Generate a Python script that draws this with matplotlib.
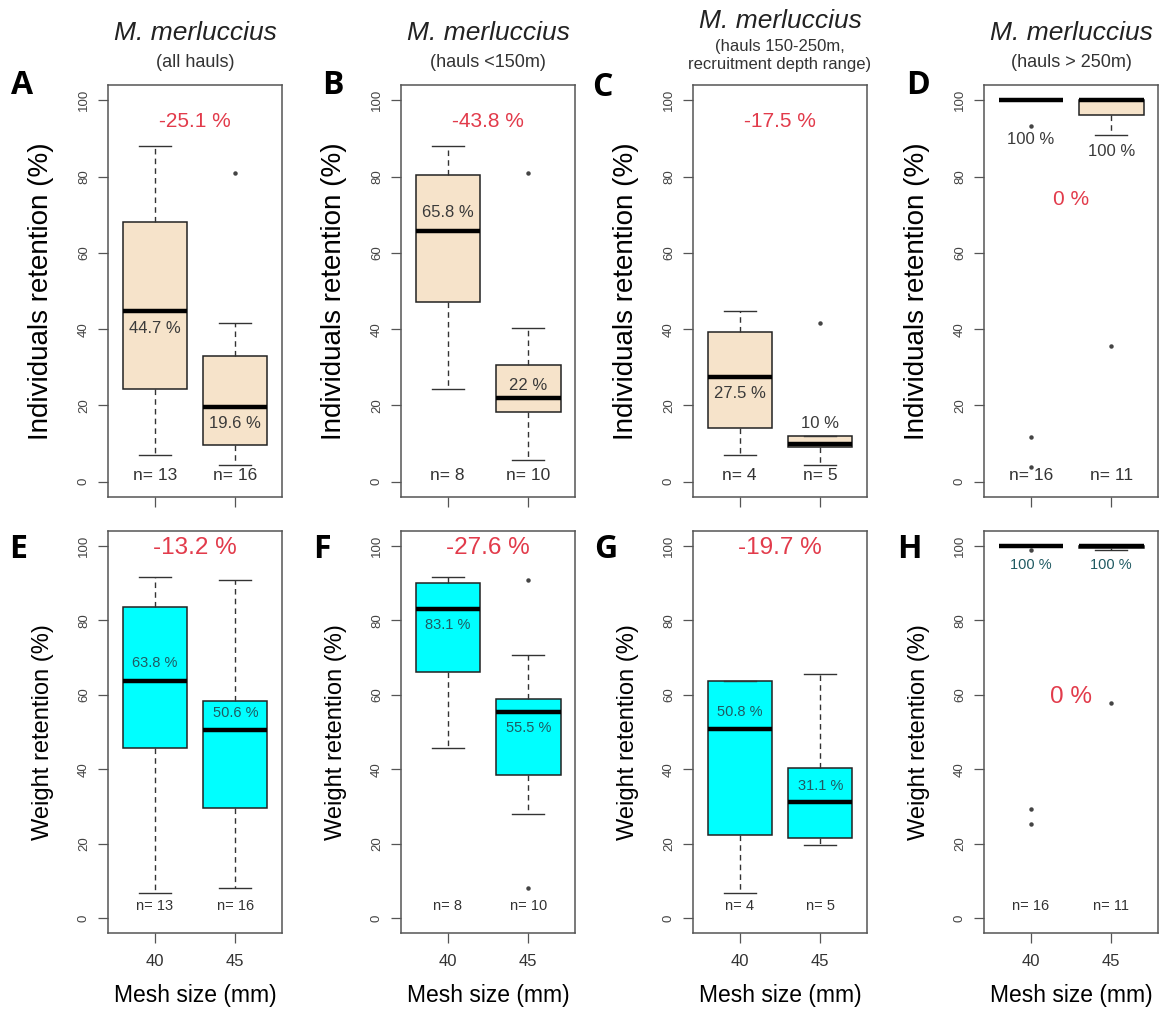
import matplotlib.pyplot as plt

plt.rcParams["font.family"] = ["Liberation Sans", "DejaVu Sans"]

# ---------------------------data---------------------------
mesh = ["40", "45"]
letters = ["A", "B", "C", "D", "E", "F", "G", "H"]
subtitles = ["(all hauls)", "(hauls <150m)",
             "(hauls 150-250m,\nrecruitment depth range)", "(hauls > 250m)"]
n_hauls = [[13, 16], [8, 10], [4, 5], [16, 11]]
change_ind = [-25.1, -43.8, -17.5, 0]
change_wt = [-13.2, -27.6, -19.7, 0]

# individuals retention (%), one pair (40 mm, 45 mm) per depth group
ind_whislo = [[7.0, 4.4], [24.2, 5.8], [7.0, 4.4], [100, 90.8]]
ind_q1 = [[24.2, 9.7], [47.2, 18.2], [14.1, 9.0], [100, 96.1]]
ind_med = [[44.7, 19.6], [65.8, 22], [27.5, 10], [100, 100]]
ind_q3 = [[68.2, 33.0], [80.3, 30.7], [39.3, 12.1], [100, 100]]
ind_whishi = [[88.0, 41.7], [88.0, 40.2], [44.7, 12.1], [100, 100]]
ind_fliers = [[[], [81.0]], [[], [81.0]], [[], [41.7]], [[93.2, 11.7, 3.9], [35.5]]]

# weight retention (%)
wt_whislo = [[6.7, 8.0], [45.7, 28.1], [6.7, 19.7], [100, 99.0]]
wt_q1 = [[45.7, 29.6], [66.1, 38.5], [22.3, 21.5], [100, 99.3]]
wt_med = [[63.8, 50.6], [83.1, 55.5], [50.8, 31.1], [100, 100]]
wt_q3 = [[83.6, 58.2], [89.9, 58.9], [63.7, 40.3], [100, 100]]
wt_whishi = [[91.6, 90.8], [91.6, 70.8], [63.7, 65.7], [100, 100]]
wt_fliers = [[[], []], [[], [90.8, 8.0]], [[], []], [[98.8, 29.3, 25.2], [57.9]]]

# ---------------------------layout---------------------------
W, H = 1163, 1015
col_left = [108, 401, 693, 984]
col_width = 174
row_top = [85, 531]
row_bottom = [497, 933]
letter_xy = [[(22, 85), (333, 86), (602, 88), (918, 86)],
             [(18, 549), (322, 549), (606, 549), (909, 549)]]
title_y = [33, 33, 21, 33]
sub_y = [62, 62, 46, 62]      # first subtitle line
sub_step = 19                 # pixels between subtitle lines
sub_fs = [13, 13, 12, 13]
med_offset = [[(-4.4, -4.4), (4.7, 3.2), (-4.4, 5.2), (-10.3, -13.4)],
              [(4.7, 4.4), (-4.4, -4.3), (4.5, 4.5), (-5.1, -5.1)]]
change_y = [[94.5, 94.5, 94.5, 74], [99.5, 99.5, 99.5, 59.3]]
n_y = [1.6, 3.2]

RED = "#e23b4b"
rows = [
    dict(ylabel="Individuals retention (%)", fill="#f6e3ca", medcol="#3a3a3a",
         whislo=ind_whislo, q1=ind_q1, med=ind_med, q3=ind_q3, whishi=ind_whishi,
         fliers=ind_fliers, change=change_ind, red_fs=15, lab_fs=12, n_fs=12.5,
         ylab_fs=20),
    dict(ylabel="Weight retention (%)", fill="#00ffff", medcol="#1f5a62",
         whislo=wt_whislo, q1=wt_q1, med=wt_med, q3=wt_q3, whishi=wt_whishi,
         fliers=wt_fliers, change=change_wt, red_fs=17.5, lab_fs=10.5, n_fs=10.5,
         ylab_fs=17),
]

fig = plt.figure(figsize=(W / 100, H / 100), dpi=100)

for r, row in enumerate(rows):
    for c in range(4):
        left = col_left[c] / W
        bottom = 1 - row_bottom[r] / H
        height = (row_bottom[r] - row_top[r]) / H
        ax = fig.add_axes([left, bottom, col_width / W, height])

        stats = []
        for k in range(2):
            stats.append(dict(whislo=row["whislo"][c][k], q1=row["q1"][c][k],
                              med=row["med"][c][k], q3=row["q3"][c][k],
                              whishi=row["whishi"][c][k], fliers=row["fliers"][c][k]))
        ax.bxp(stats, positions=[1, 2], widths=0.8, capwidths=0.4, patch_artist=True,
               boxprops=dict(facecolor=row["fill"], edgecolor="#222222", linewidth=1.1),
               medianprops=dict(color="black", linewidth=3.2, solid_capstyle="butt"),
               whiskerprops=dict(color="#333333", linewidth=1, linestyle=(0, (4, 3))),
               capprops=dict(color="#333333", linewidth=1),
               flierprops=dict(marker="o", markersize=2.2, markerfacecolor="#444444",
                               markeredgecolor="#444444"))

        ax.set_xlim(0.42, 2.58)
        ax.set_ylim(-4, 104)
        ax.set_yticks([0, 20, 40, 60, 80, 100])
        ax.set_yticklabels(["0", "20", "40", "60", "80", "100"], rotation=90,
                           va="center", fontsize=9.5, color="#444444")
        ax.set_xticks([1, 2])
        if r == 1:
            ax.set_xticklabels(mesh, fontsize=12, color="#333333")
            ax.set_xlabel("Mesh size (mm)", fontsize=16.5, labelpad=11)
        else:
            ax.set_xticklabels([])
        ax.tick_params(axis="both", length=7, width=0.9, color="#555555")
        ax.tick_params(axis="y", pad=6)
        ax.tick_params(axis="x", pad=8)
        for s in ax.spines.values():
            s.set_color("#555555")
            s.set_linewidth(1.1)

        ax.set_ylabel(row["ylabel"], fontsize=row["ylab_fs"])
        ax.yaxis.set_label_coords(-0.31, 0.5)

        # percentage change between mesh sizes
        ax.text(1.5, change_y[r][c], f"{row['change'][c]:g} %", color=RED,
                fontsize=row["red_fs"], ha="center", va="center")
        for k in range(2):
            med = row["med"][c][k]
            ax.text(k + 1, med + med_offset[r][c][k], f"{med:g} %", color=row["medcol"],
                    fontsize=row["lab_fs"], ha="center", va="center")
            ax.text(k + 1, n_y[r], f"n= {n_hauls[c][k]}", color="#333333",
                    fontsize=row["n_fs"], ha="center", va="center")

        lx, ly = letter_xy[r][c]
        fig.text(lx / W, 1 - ly / H, letters[r * 4 + c], fontsize=23,
                 fontweight="bold", family="Open Sans", ha="center", va="center")

        if r == 0:
            cx = (col_left[c] + col_width / 2) / W
            fig.text(cx, 1 - title_y[c] / H, "M. merluccius", fontsize=19,
                     style="italic", ha="center", va="center", color="#222222")
            for i, line in enumerate(subtitles[c].split("\n")):
                fig.text(cx, 1 - (sub_y[c] + i * sub_step) / H, line, fontsize=sub_fs[c],
                         ha="center", va="center", color="#333333")

fig.savefig("out.png", dpi=100)
